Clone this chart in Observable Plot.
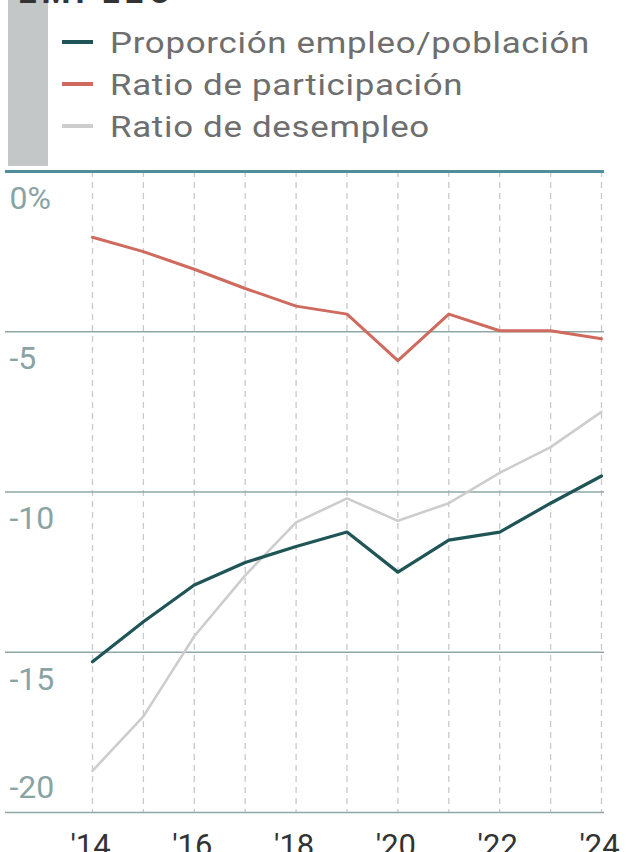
<!DOCTYPE html>
<html><head><meta charset="utf-8">
<script src="https://cdn.jsdelivr.net/npm/d3@7"></script>
<script src="https://cdn.jsdelivr.net/npm/@observablehq/plot@0.6"></script>
<style>
body{margin:0;background:#fff;}
#wrap{position:relative;width:629px;height:852px;overflow:hidden;font-family:Roboto,sans-serif;background:#fff;}
#bar{position:absolute;left:8px;top:0;width:40px;height:166px;background:#c4c7c7;}
#title{position:absolute;left:18px;top:-25px;font-size:33px;line-height:33px;font-weight:700;color:#333;letter-spacing:5px;}
#legend{position:absolute;left:62px;top:21px;}
.item{display:flex;align-items:center;height:42px;font-size:30px;color:#6e6e6e;white-space:nowrap;}
.lt{display:inline-block;transform-origin:0 50%;letter-spacing:0.6px;}
.sw{width:31px;height:4px;margin-right:17px;flex:none;}
#chart{position:absolute;left:0;top:0;}
</style></head>
<body><div id="wrap"><div id="bar"></div><div id="title">EMPLEO</div><div id="legend"></div><div id="chart"></div></div>
<script>
const years = [2014, 2015, 2016, 2017, 2018, 2019, 2020, 2021, 2022, 2023, 2024];
const empleo = [-15.3, -14.05, -12.9, -12.2, -11.7, -11.25, -12.5, -11.5, -11.25, -10.35, -9.5];
const participacion = [-2.05, -2.5, -3.05, -3.65, -4.2, -4.45, -5.9, -4.45, -4.97, -4.97, -5.22];
const desempleo = [-18.7, -17.0, -14.5, -12.6, -10.95, -10.2, -10.9, -10.35, -9.4, -8.6, -7.5];
const seriesNames = ["Proporción empleo/población", "Ratio de participación", "Ratio de desempleo"];
const seriesColors = ["#1f5556", "#cf6a5e", "#cdcdcd"];
const yTicks = [0, -5, -10, -15, -20];
const yLabels = ["0%", "-5", "-10", "-15", "-20"];
const xTicks = [2014, 2016, 2018, 2020, 2022, 2024];
const xLabels = ["'14", "'16", "'18", "'20", "'22", "'24"];

const seriesValues = [empleo, participacion, desempleo];
const rows = seriesValues.flatMap((vals, s) => years.map((yr, i) => ({year: yr, value: vals[i], s})));

const legend = document.getElementById("legend");
const texts = [];
seriesNames.forEach((n, i) => {
  const d = document.createElement("div"); d.className = "item";
  d.innerHTML = `<span class="sw" style="background:${seriesColors[i]}"></span><span class="lt">${n}</span>`;
  legend.appendChild(d);
  texts.push(d.querySelector(".lt"));
});
// widen the legend glyphs so the longest label spans the reference's ~480px
const w0 = texts[0].getBoundingClientRect().width;
const sx = 480 / w0;
texts.forEach(t => t.style.transform = `scaleX(${sx})`);

const tickRows = yTicks.map((t, i) => ({t, label: yLabels[i]}));
const xRows = xTicks.map((t, i) => ({t, label: xLabels[i]}));

const chart = Plot.plot({
  width: 629, height: 852,
  marginTop: 171, marginBottom: 40, marginLeft: 92, marginRight: 28,
  style: {background: "transparent", fontFamily: "Roboto, sans-serif"},
  x: {domain: [2014, 2024], axis: null},
  y: {domain: [-20, 0], axis: null},
  marks: [
    Plot.ruleX(years, {x: d => d, stroke: "#c9c9c9", strokeDasharray: "6,5", strokeWidth: 1.3}),
    Plot.ruleY(yTicks.filter(d => d !== 0), {y: d => d, stroke: "#8fa8a7", strokeWidth: 1.6, insetLeft: -87, insetRight: -3}),
    Plot.ruleY([0], {y: d => d, stroke: "#4f8e9b", strokeWidth: 3, insetLeft: -87, insetRight: -3}),
    Plot.line(rows.filter(d => d.s === 2), {x: "year", y: "value", stroke: seriesColors[2], strokeWidth: 2.6}),
    Plot.line(rows.filter(d => d.s === 1), {x: "year", y: "value", stroke: seriesColors[1], strokeWidth: 3}),
    Plot.line(rows.filter(d => d.s === 0), {x: "year", y: "value", stroke: seriesColors[0], strokeWidth: 3.2}),
    Plot.text(tickRows.filter(d => d.t !== -20), {y: "t", text: "label", frameAnchor: "left", textAnchor: "start", dx: -83, dy: 27, fontSize: 32, fill: "#8aa3a3"}),
    Plot.text(tickRows.filter(d => d.t === -20), {y: "t", text: "label", frameAnchor: "left", textAnchor: "start", dx: -83, dy: -25, fontSize: 32, fill: "#8aa3a3"}),
    Plot.text(xRows, {x: "t", text: "label", frameAnchor: "bottom", dx: -2, dy: 43, fontSize: 31, fill: "#333"})
  ]
});
document.getElementById("chart").appendChild(chart);
</script></body></html>
